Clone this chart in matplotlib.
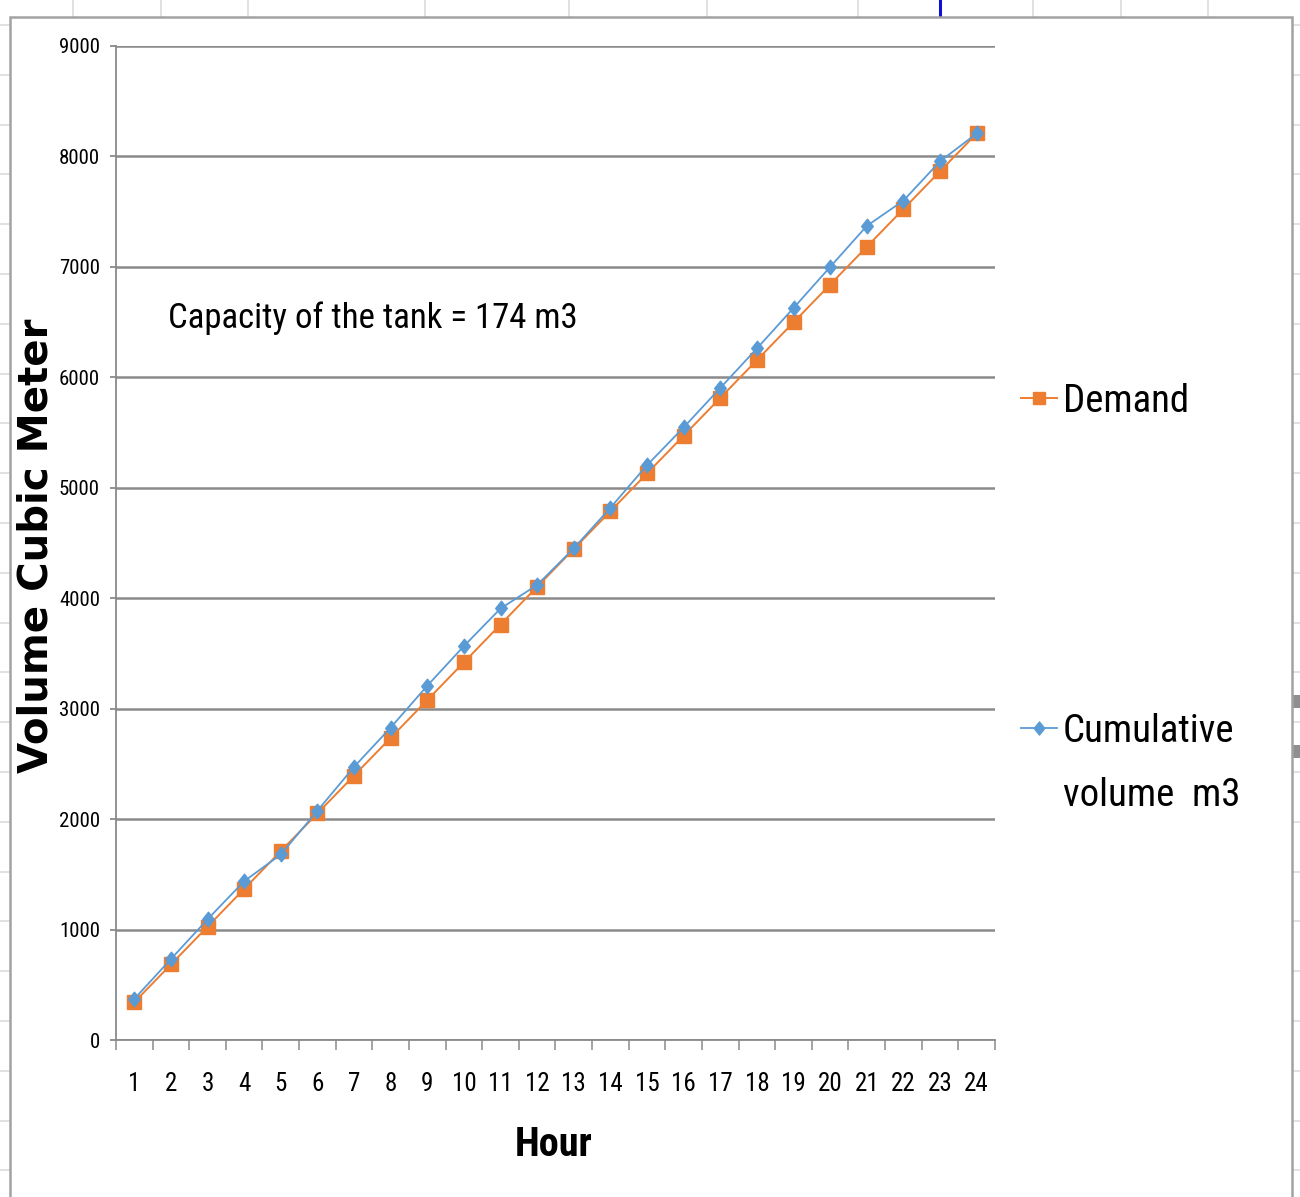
import numpy as np
import matplotlib
matplotlib.use("Agg")
import matplotlib.pyplot as plt
from matplotlib import font_manager as fm
from matplotlib.lines import Line2D
from matplotlib.patches import Rectangle
from matplotlib.path import Path

# ---- data -------------------------------------------------------------
hours = [1, 2, 3, 4, 5, 6, 7, 8, 9, 10, 11, 12,
         13, 14, 15, 16, 17, 18, 19, 20, 21, 22, 23, 24]
demand = [342, 684, 1026, 1368, 1710, 2052, 2394, 2736, 3078, 3420, 3762, 4104,
          4446, 4788, 5130, 5472, 5814, 6156, 6498, 6840, 7182, 7524, 7866, 8208]
cumulative = [372, 733, 1093, 1438, 1680, 2076, 2473, 2829, 3208, 3567, 3907, 4120,
              4452, 4819, 5205, 5547, 5904, 6262, 6628, 7000, 7371, 7600, 7956, 8208]
y_ticks = [0, 1000, 2000, 3000, 4000, 5000, 6000, 7000, 8000, 9000]

ORANGE = "#ED7D31"
BLUE = "#5B9BD5"
GRID = "#8a8a8a"


def narrow_font(bold=False):
    """Pick an installed condensed sans face, falling back to Liberation Sans."""
    want_w = 700 if bold else 400
    prefs = ["Liberation Sans Narrow", "Roboto Condensed", "Open Sans Condensed",
             "Noto Sans", "DejaVu Sans", "Open Sans", "Roboto", "Liberation Sans"]
    cands = []
    for f in fm.fontManager.ttflist:
        tag = (f.name + " " + f.fname).lower()
        if f.style != "normal":
            continue
        narrow = ("narrow" in tag or "condensed" in tag or "cond" in tag
                  or f.stretch in ("condensed", "semi-condensed", "extra-condensed", 300, 400, 500))
        if not narrow or "extra" in tag or "semi" in tag or "ultra" in tag:
            continue
        w = f.weight if isinstance(f.weight, int) else fm.weight_dict.get(f.weight, 400)
        if abs(w - want_w) > 50:
            continue
        rank = next((i for i, p in enumerate(prefs) if f.name.startswith(p)), len(prefs))
        cands.append((rank, f.fname))
    if cands:
        cands.sort()
        return fm.FontProperties(fname=cands[0][1])
    return fm.FontProperties(family="Liberation Sans", weight="bold" if bold else "normal")


NARROW = narrow_font()
NARROW_B = narrow_font(bold=True)


def fp(base, size):
    p = base.copy()
    p.set_size(size)
    return p


W, H = 1300, 1197
fig = plt.figure(figsize=(W / 100, H / 100), dpi=100)
fig.patch.set_facecolor("white")


def fx(px):
    return px / W


def fy(py):
    return 1 - py / H


# ---- worksheet behind the chart object --------------------------------
cell_col = "#dcdcdc"
for x in [73, 161, 248, 425, 569, 707, 858, 1033, 1121, 1208]:
    fig.add_artist(Line2D([fx(x), fx(x)], [fy(0), fy(17)], color=cell_col, lw=1.2, zorder=-3))
for y in np.arange(25, H, 49.8):
    fig.add_artist(Line2D([fx(0), fx(10)], [fy(y), fy(y)], color=cell_col, lw=1.2, zorder=-3))
    fig.add_artist(Line2D([fx(1292), fx(1300)], [fy(y), fy(y)], color=cell_col, lw=1.2, zorder=-3))
fig.add_artist(Line2D([fx(940), fx(940)], [fy(0), fy(16)], color="#1010d0", lw=2.2, zorder=-3))
for y0 in [695, 745]:
    fig.add_artist(Rectangle((fx(1293), fy(y0 + 13)), fx(7), 13 / H,
                             facecolor="#8f8f8f", edgecolor="none", zorder=-2))
# chart object frame
fig.add_artist(Rectangle((fx(10), fy(H + 20)), fx(1282), (H + 20 - 17) / H,
                         facecolor="white", edgecolor="#a2a2a2", lw=1.8, zorder=-1))

# ---- plot area -------------------------------------------------------
ax = fig.add_axes([fx(116), fy(1040), fx(995 - 116), (1040 - 46) / H])
ax.set_facecolor("none")

diamond = Path([(0, 1), (0.8, 0), (0, -1), (-0.8, 0), (0, 1)],
               [Path.MOVETO, Path.LINETO, Path.LINETO, Path.LINETO, Path.CLOSEPOLY])

ln_dem, = ax.plot(hours, demand, color=ORANGE, lw=1.4, marker="s", ms=9.5,
                  mec=ORANGE, mfc=ORANGE, zorder=3)
ln_cum, = ax.plot(hours, cumulative, color=BLUE, lw=1.3, marker=diamond, ms=10.5,
                  mec=BLUE, mfc=BLUE, zorder=4)

ax.set_xlim(0.5, 24.5)
ax.set_ylim(0, 9000)
ax.set_yticks(y_ticks)
ax.set_yticklabels([str(v) for v in y_ticks], fontproperties=fp(NARROW, 15))
ax.set_xticks(hours)
ax.set_xticklabels([str(h) for h in hours], fontproperties=fp(NARROW, 18))
ax.set_xticks(np.array(hours + [25]) - 0.5, minor=True)
ax.tick_params(axis="x", which="major", length=0, pad=23)
ax.tick_params(axis="x", which="minor", length=7.5, width=1.1, color=GRID, direction="out")
ax.tick_params(axis="y", which="major", length=4.5, width=1.3, color=GRID, pad=7)

ax.yaxis.grid(True, color=GRID, lw=1.8)
ax.set_axisbelow(True)
for side in ["top", "right"]:
    ax.spines[side].set_visible(False)
for side in ["left", "bottom"]:
    ax.spines[side].set_color(GRID)
    ax.spines[side].set_linewidth(1.3)

# axis titles
fig.text(fx(554), fy(1145), "Hour", fontproperties=fp(NARROW_B, 29),
         ha="center", va="center")
fig.text(fx(37), fy(546), "Volume Cubic Meter", family="DejaVu Sans",
         fontweight="bold", fontsize=29, rotation=90, ha="center", va="center")

ax.text((168 - 116) / (995 - 116), (1040 - 318) / (1040 - 46),
        "Capacity of the tank = 174 m3", transform=ax.transAxes,
        fontproperties=fp(NARROW, 25), ha="left", va="center")

# ---- legend ------------------------------------------------------------
leg_kw = dict(frameon=False, handlelength=0.92, handletextpad=0.16, borderpad=0,
              borderaxespad=0, loc="center left", bbox_transform=fig.transFigure,
              prop=fp(NARROW, 28), numpoints=1, markerscale=0.9)
leg1 = ax.legend([ln_dem], ["Demand"], bbox_to_anchor=(fx(1021), fy(401)), **leg_kw)
ax.add_artist(leg1)
leg2 = ax.legend([ln_cum], ["Cumulative"], bbox_to_anchor=(fx(1021), fy(731)), **leg_kw)
fig.text(fx(1063), fy(796), "volume  m3", fontproperties=fp(NARROW, 28),
         ha="left", va="center")

fig.savefig("out.png", dpi=100, facecolor="white")
